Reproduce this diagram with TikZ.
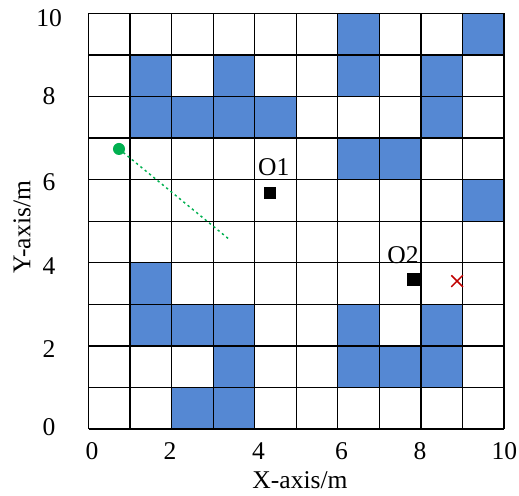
\documentclass[tikz,border=0pt]{standalone}
\usepackage{fontspec}
\setmainfont{Liberation Serif}
\usetikzlibrary{calc}
\definecolor{cellblue}{HTML}{5588D3}
\definecolor{pathgreen}{HTML}{00B050}
\definecolor{goalred}{HTML}{C00000}
\begin{document}
\begin{tikzpicture}[x=1cm,y=1cm,
  lbl/.style={font=\fontsize{17.5}{19}\selectfont, inner sep=0pt},
  obst/.style={fill=cellblue, draw=none},
  gridline/.style={line width=0.9pt, black}]
\useasboundingbox (-2.13,-1.61) rectangle (10.36,10.325);
% blue cells
\foreach \x/\y in {6/9,9/9,
                   1/8,3/8,6/8,8/8,
                   1/7,2/7,3/7,4/7,8/7,
                   6/6,7/6,
                   9/5,
                   1/3,
                   1/2,2/2,3/2,6/2,8/2,
                   3/1,6/1,7/1,8/1,
                   2/0,3/0}
  \fill[obst] (\x,\y) rectangle ++(1,1);
% grid
\draw[gridline] (0,0) grid (10,10);
% tick labels
\foreach \u/\t in {0.084/0,1.96/2,4.09/4,6.09/6,7.98/8,10.01/10}
  \node[lbl] at (\u,-0.54) {\t};
\foreach \v/\t in {0.055/0,1.93/2,3.91/4,5.94/6,8.0/8,9.88/10}
  \node[lbl] at (-0.95,\v) {\t};
\node[lbl] (xl) at (5.09,-1.24) {X-axis/m};
\node[lbl, rotate=90] (yl) at (-1.6,4.86) {Y-axis/m};
% obstacles O1, O2
\node[fill=black, minimum size=0.31cm, inner sep=0pt] (o1) at (4.368,5.68) {};
\node[lbl] (o1t) at (4.46,6.31) {O1};
\node[fill=black, minimum size=0.31cm, inner sep=0pt] (o2) at (7.83,3.59) {};
\node[lbl] (o2t) at (7.57,4.19) {O2};
% start, path, goal
\node[circle, fill=pathgreen, minimum size=0.29cm, inner sep=0pt] (start) at (0.734,6.74) {};
\coordinate (pend) at (3.38,4.57);
\draw[pathgreen, line width=1pt, dash pattern=on 1.6pt off 2.2pt] (start.center) -- (pend);
\coordinate (goal) at (8.87,3.56);
\draw[goalred, line width=1pt] ($(goal)+(-0.14,-0.14)$) -- ($(goal)+(0.14,0.14)$)
  ($(goal)+(-0.14,0.14)$) -- ($(goal)+(0.14,-0.14)$);
\end{tikzpicture}
\end{document}
